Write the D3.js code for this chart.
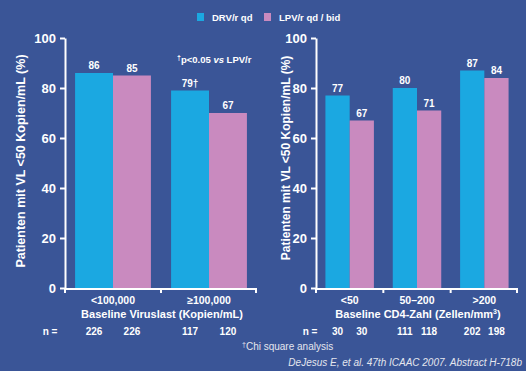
<!DOCTYPE html>
<html>
<head>
<meta charset="utf-8">
<script src="https://cdn.jsdelivr.net/npm/d3@7"></script>
<style>
  body { margin: 0; background: #3a5597; }
  svg { display: block; font-family: "Liberation Sans", Arial, sans-serif; }
</style>
</head>
<body>
<script>
// series and shared ticks
var seriesNames = ["DRV/r qd", "LPV/r qd / bid"]
var yTicks = [0, 20, 40, 60, 80, 100]

// left panel: baseline viral load
var leftCategories = ["<100,000", "\u2265100,000"]
var leftDRV = [86, 79]
var leftLPV = [85, 70]
var leftDRVLabels = ["86", "79\u2020"]
var leftLPVLabels = ["85", "67"]
var leftNDRV = [226, 117]
var leftNLPV = [226, 120]

// right panel: baseline CD4 count
var rightCategories = ["<50", "50\u2013200", ">200"]
var rightDRV = [77, 80, 87]
var rightLPV = [67, 71, 84]
var rightDRVLabels = ["77", "80", "87"]
var rightLPVLabels = ["67", "71", "84"]
var rightNDRV = [30, 111, 202]
var rightNLPV = [30, 118, 198]

var colors = ["#1ba8e1", "#c98abf"]
var W = 526, H = 371

var svg = d3.select("body").append("svg")
  .attr("width", W)
  .attr("height", H)

svg.append("rect").attr("width", W).attr("height", H).attr("fill", "#3a5597")

var y = d3.scaleLinear().domain([0, 100]).range([288, 38])

// legend
var legend = svg.append("g")
var legendX = [197, 264]
seriesNames.forEach(function(name, i) {
  legend.append("rect")
    .attr("x", legendX[i]).attr("y", 13)
    .attr("width", 7).attr("height", 8)
    .attr("fill", colors[i])
  legend.append("text")
    .attr("x", legendX[i] + 15).attr("y", 20.5)
    .attr("fill", "white")
    .style("font-size", "9.5px")
    .style("font-weight", "bold")
    .text(name)
})

function drawPanel(cfg) {
  var g = svg.append("g")

  var x0 = d3.scaleBand()
    .domain(cfg.categories)
    .range([cfg.x0, cfg.x1])
    .paddingInner(cfg.pad)
    .paddingOuter(cfg.pad / 2)

  var x1 = d3.scaleBand()
    .domain([0, 1])
    .range([0, x0.bandwidth()])

  var rows = cfg.categories.map(function(c, i) {
    return {
      cat: c,
      bars: [
        {s: 0, v: cfg.drv[i], label: cfg.drvLabels[i], n: cfg.nDrv[i]},
        {s: 1, v: cfg.lpv[i], label: cfg.lpvLabels[i], n: cfg.nLpv[i]}
      ]
    }
  })

  var groups = g.selectAll(".grp")
    .data(rows)
    .enter()
    .append("g")
    .attr("transform", function(d) { return "translate(" + x0(d.cat) + ",0)" })

  groups.selectAll("rect")
    .data(function(d) { return d.bars })
    .enter()
    .append("rect")
    .attr("x", function(d) { return x1(d.s) })
    .attr("width", x1.bandwidth())
    .attr("y", function(d) { return y(d.v) })
    .attr("height", function(d) { return y(0) - y(d.v) })
    .attr("fill", function(d) { return colors[d.s] })

  // value labels above bars
  groups.selectAll(".val")
    .data(function(d) { return d.bars })
    .enter()
    .append("text")
    .attr("x", function(d) { return x1(d.s) + x1.bandwidth() / 2 })
    .attr("y", function(d) { return y(d.v) - 4 })
    .attr("text-anchor", "middle")
    .attr("fill", "white")
    .style("font-size", "10px")
    .style("font-weight", "bold")
    .text(function(d) { return d.label })

  // n values under bars
  groups.selectAll(".n")
    .data(function(d) { return d.bars })
    .enter()
    .append("text")
    .attr("x", function(d) { return x1(d.s) + x1.bandwidth() / 2 })
    .attr("y", 335)
    .attr("text-anchor", "middle")
    .attr("fill", "white")
    .style("font-size", "10px")
    .style("font-weight", "bold")
    .text(function(d) { return d.n })

  g.append("text")
    .attr("x", cfg.nX).attr("y", 335)
    .attr("text-anchor", "middle")
    .attr("fill", "white")
    .style("font-size", "10px")
    .style("font-weight", "bold")
    .text("n =")

  // y axis
  var yAxis = d3.axisLeft(y).tickValues(yTicks).tickSize(5).tickSizeOuter(0).tickPadding(4)
  var ya = g.append("g")
    .attr("transform", "translate(" + cfg.x0 + ",0)")
    .call(yAxis)
  ya.selectAll("path, line").attr("stroke", "white").attr("stroke-width", 2)
  ya.selectAll("text")
    .attr("fill", "white")
    .style("font-size", "13px")
    .style("font-weight", "bold")
    .style("font-family", "Liberation Sans, Arial, sans-serif")

  // x axis line with ticks at band boundaries
  g.append("line")
    .attr("x1", cfg.x0 - 1).attr("x2", cfg.x1)
    .attr("y1", y(0) + 1).attr("y2", y(0) + 1)
    .attr("stroke", "white").attr("stroke-width", 2)
  var step = x0.step()
  d3.range(cfg.categories.length + 1).forEach(function(i) {
    var xx = cfg.x0 + i * step
    if (i == cfg.categories.length) xx = cfg.x1 - 1
    g.append("line")
      .attr("x1", xx).attr("x2", xx)
      .attr("y1", y(0)).attr("y2", y(0) + 5)
      .attr("stroke", "white").attr("stroke-width", 2)
  })

  // category labels
  g.selectAll(".cat")
    .data(cfg.categories)
    .enter()
    .append("text")
    .attr("x", function(d) { return x0(d) + x0.bandwidth() / 2 })
    .attr("y", 304)
    .attr("text-anchor", "middle")
    .attr("fill", "white")
    .style("font-size", "10.5px")
    .style("font-weight", "bold")
    .text(function(d) { return d })

  // x title
  var xt = g.append("text")
    .attr("x", cfg.titleX).attr("y", 318)
    .attr("text-anchor", "middle")
    .attr("fill", "white")
    .style("font-size", "11px")
    .style("font-weight", "bold")
  xt.append("tspan").text(cfg.xTitle)
  if (cfg.xTitleSup) {
    xt.append("tspan").attr("dy", -4).style("font-size", "7px").text(cfg.xTitleSup)
    xt.append("tspan").attr("dy", 4).text(")")
  }

  // y title
  g.append("text")
    .attr("transform", "translate(" + cfg.yLabelX + "," + cfg.yLabelY + ") rotate(-90)")
    .attr("text-anchor", "middle")
    .attr("fill", "white")
    .style("font-size", cfg.yLabelSize)
    .style("font-weight", "bold")
    .text("Patienten mit VL <50 Kopien/mL (%)")
}

drawPanel({
  categories: leftCategories, drv: leftDRV, lpv: leftLPV,
  drvLabels: leftDRVLabels, lpvLabels: leftLPVLabels,
  nDrv: leftNDRV, nLpv: leftNLPV,
  x0: 65, x1: 257, pad: 0.21, nX: 50, titleX: 162,
  yLabelX: 25, yLabelY: 161, yLabelSize: "12.5px",
  xTitle: "Baseline Viruslast (Kopien/mL)"
})

drawPanel({
  categories: rightCategories, drv: rightDRV, lpv: rightLPV,
  drvLabels: rightDRVLabels, lpvLabels: rightLPVLabels,
  nDrv: rightNDRV, nLpv: rightNLPV,
  x0: 316, x1: 518, pad: 0.28, nX: 310, titleX: 418,
  yLabelX: 290, yLabelY: 158, yLabelSize: "12px",
  xTitle: "Baseline CD4-Zahl (Zellen/mm", xTitleSup: "3"
})

// significance note
var note = svg.append("text")
  .attr("x", 177).attr("y", 63)
  .attr("fill", "white")
  .style("font-size", "9.5px")
  .style("font-weight", "bold")
note.append("tspan").attr("dy", -3).style("font-size", "7px").text("\u2020")
note.append("tspan").attr("dy", 3).text("p<0.05 ")
note.append("tspan").style("font-style", "italic").text("vs")
note.append("tspan").text(" LPV/r")

// footnotes
var foot = svg.append("text")
  .attr("x", 242).attr("y", 350)
  .attr("fill", "#e4e6ee")
  .style("font-size", "10px")
foot.append("tspan").attr("dy", -3).style("font-size", "7px").text("\u2020")
foot.append("tspan").attr("dy", 3).text("Chi square analysis")

svg.append("text")
  .attr("x", 522).attr("y", 366)
  .attr("text-anchor", "end")
  .attr("fill", "#e4e6ee")
  .style("font-size", "10px")
  .style("font-style", "italic")
  .text("DeJesus E, et al. 47th ICAAC 2007. Abstract H-718b")
</script>
</body>
</html>
